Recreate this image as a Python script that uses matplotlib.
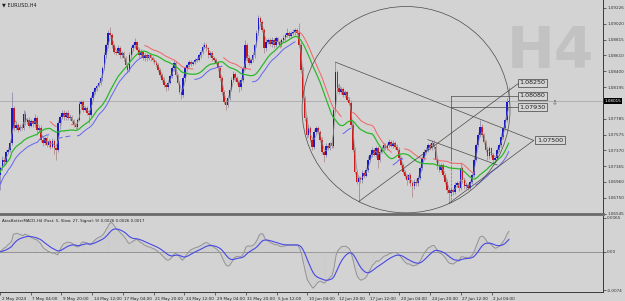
import numpy as np
import pandas as pd
import matplotlib
matplotlib.use("Agg")
import matplotlib.pyplot as plt
import matplotlib.transforms as mtransforms
from matplotlib.patches import Ellipse

# EURUSD H4 closes, bar 0 = 2 May 2024 12:00 (open of each bar = previous close)
first_open = 1.0712
closes = [
    1.0705, 1.0714, 1.0725, 1.0722, 1.0735, 1.0738, 1.0747, 1.0792, 1.0766, 1.0770,
    1.0764, 1.0768, 1.0766, 1.0785, 1.0774, 1.0777, 1.0769, 1.0775, 1.0771, 1.0779,
    1.0764, 1.0766, 1.0751, 1.0747, 1.0753, 1.0744, 1.0749, 1.0742, 1.0749, 1.0740,
    1.0738, 1.0772, 1.0780, 1.0786, 1.0780, 1.0786, 1.0779, 1.0781, 1.0775, 1.0770,
    1.0768, 1.0777, 1.0797, 1.0800, 1.0790, 1.0792, 1.0786, 1.0783, 1.0805, 1.0813,
    1.0818, 1.0821, 1.0825, 1.0831, 1.0844, 1.0861, 1.0874, 1.0890, 1.0887, 1.0874,
    1.0865, 1.0864, 1.0870, 1.0861, 1.0864, 1.0857, 1.0848, 1.0842, 1.0861, 1.0870,
    1.0874, 1.0878, 1.0868, 1.0861, 1.0865, 1.0857, 1.0861, 1.0857, 1.0861, 1.0857,
    1.0855, 1.0852, 1.0848, 1.0842, 1.0835, 1.0829, 1.0822, 1.0819, 1.0825, 1.0834,
    1.0844, 1.0851, 1.0835, 1.0825, 1.0813, 1.0809, 1.0831, 1.0844, 1.0848, 1.0852,
    1.0850, 1.0852, 1.0855, 1.0855, 1.0861, 1.0865, 1.0872, 1.0874, 1.0870, 1.0861,
    1.0864, 1.0857, 1.0855, 1.0851, 1.0844, 1.0831, 1.0813, 1.0800, 1.0796, 1.0805,
    1.0816, 1.0829, 1.0837, 1.0831, 1.0826, 1.0819, 1.0829, 1.0844, 1.0874, 1.0857,
    1.0851, 1.0855, 1.0861, 1.0874, 1.0890, 1.0909, 1.0904, 1.0894, 1.0870, 1.0878,
    1.0881, 1.0875, 1.0881, 1.0874, 1.0883, 1.0878, 1.0874, 1.0881, 1.0883, 1.0887,
    1.0890, 1.0886, 1.0890, 1.0891, 1.0894, 1.0890, 1.0874, 1.0842, 1.0805, 1.0779,
    1.0757, 1.0766, 1.0751, 1.0742, 1.0761, 1.0766, 1.0761, 1.0751, 1.0735, 1.0731,
    1.0743, 1.0740, 1.0746, 1.0743, 1.0790, 1.0839, 1.0818, 1.0813, 1.0817, 1.0809,
    1.0813, 1.0803, 1.0799, 1.0770, 1.0738, 1.0709, 1.0696, 1.0701, 1.0698, 1.0707,
    1.0704, 1.0712, 1.0725, 1.0731, 1.0738, 1.0731, 1.0740, 1.0725, 1.0735, 1.0740,
    1.0744, 1.0740, 1.0744, 1.0748, 1.0743, 1.0747, 1.0742, 1.0738, 1.0727, 1.0718,
    1.0709, 1.0704, 1.0698, 1.0705, 1.0694, 1.0690, 1.0696, 1.0694, 1.0701, 1.0714,
    1.0727, 1.0735, 1.0738, 1.0744, 1.0740, 1.0747, 1.0742, 1.0725, 1.0716, 1.0712,
    1.0718, 1.0705, 1.0696, 1.0685, 1.0681, 1.0685, 1.0683, 1.0692, 1.0694, 1.0688,
    1.0714, 1.0698, 1.0690, 1.0692, 1.0688, 1.0696, 1.0705, 1.0725, 1.0744, 1.0757,
    1.0768, 1.0757, 1.0748, 1.0738, 1.0729, 1.0740, 1.0731, 1.0725, 1.0727, 1.0738,
    1.0744, 1.0755, 1.0766, 1.0777, 1.0800, 1.0801,
]
# wick lengths beyond the body, in pips
upper_wick = [
    3, 2, 4, 3, 2, 3, 4, 21, 3, 4, 2, 3, 3, 5, 3, 2, 4, 3, 2, 6,
    3, 2, 4, 3, 2, 3, 3, 2, 4, 3, 2, 5, 3, 4, 3, 2, 3, 4, 2, 3,
    3, 2, 4, 3, 3, 2, 3, 3, 4, 3, 2, 3, 3, 4, 3, 4, 3, 4, 8, 3,
    2, 3, 4, 3, 2, 3, 3, 2, 4, 3, 3, 6, 2, 3, 4, 2, 3, 3, 2, 3,
    3, 2, 3, 3, 2, 3, 3, 2, 4, 3, 3, 4, 3, 2, 3, 3, 4, 3, 2, 3,
    3, 2, 3, 4, 3, 3, 4, 4, 3, 2, 3, 3, 2, 3, 3, 2, 3, 3, 2, 4,
    3, 4, 3, 2, 3, 3, 4, 3, 7, 3, 2, 3, 4, 3, 4, 5, 3, 3, 2, 4,
    3, 2, 4, 3, 3, 2, 3, 3, 4, 3, 7, 3, 3, 4, 3, 3, 13, 4, 3, 3,
    3, 4, 3, 2, 4, 3, 3, 2, 3, 3, 4, 3, 2, 3, 4, 13, 3, 4, 3, 3,
    3, 2, 3, 3, 4, 3, 2, 3, 3, 4, 3, 3, 4, 3, 3, 2, 3, 3, 4, 3,
    3, 3, 2, 4, 3, 3, 2, 3, 3, 2, 3, 3, 2, 3, 3, 2, 3, 3, 4, 3,
    3, 4, 3, 3, 2, 4, 3, 3, 2, 3, 3, 2, 3, 3, 2, 3, 3, 4, 3, 3,
    8, 3, 2, 3, 3, 2, 3, 4, 3, 4, 9, 3, 3, 2, 3, 3, 2, 3, 3, 4,
    3, 4, 3, 4, 5, 18,
]
lower_wick = [
    4, 20, 3, 4, 3, 2, 3, 3, 4, 3, 3, 2, 3, 3, 4, 3, 3, 2, 3, 3,
    4, 3, 3, 4, 3, 2, 3, 3, 2, 8, 13, 3, 3, 2, 3, 3, 2, 3, 3, 2,
    3, 3, 2, 3, 3, 2, 3, 10, 3, 2, 3, 3, 2, 3, 3, 2, 3, 3, 2, 3,
    3, 3, 2, 3, 3, 3, 3, 4, 3, 2, 3, 3, 2, 3, 3, 2, 3, 3, 2, 3,
    3, 2, 3, 3, 2, 3, 3, 5, 3, 2, 3, 3, 3, 3, 3, 5, 3, 3, 2, 3,
    3, 2, 3, 3, 2, 3, 3, 2, 3, 3, 2, 3, 3, 2, 3, 3, 4, 3, 6, 3,
    3, 2, 3, 3, 2, 6, 3, 3, 2, 3, 3, 2, 3, 3, 2, 3, 3, 3, 6, 3,
    3, 2, 3, 3, 2, 3, 3, 2, 3, 3, 2, 3, 3, 2, 3, 3, 3, 4, 3, 4,
    4, 3, 3, 5, 3, 2, 3, 3, 3, 9, 3, 2, 3, 3, 3, 3, 3, 2, 3, 3,
    3, 2, 3, 3, 3, 3, 3, 26, 3, 3, 3, 2, 3, 3, 3, 2, 3, 11, 3, 2,
    3, 2, 3, 3, 2, 3, 3, 2, 3, 3, 3, 3, 6, 3, 3, 14, 3, 3, 3, 3,
    3, 2, 3, 3, 2, 3, 3, 3, 3, 3, 3, 3, 3, 3, 13, 3, 4, 3, 3, 4,
    3, 3, 3, 3, 3, 3, 3, 3, 2, 3, 3, 3, 3, 3, 4, 3, 3, 3, 3, 3,
    3, 3, 3, 3, 3, 3,
]

time_labels = ["2 May 2024", "7 May 04:00", "9 May 20:00", "14 May 12:00", "17 May 04:00",
               "21 May 20:00", "24 May 12:00", "29 May 04:00", "31 May 20:00", "5 Jun 12:00",
               "10 Jun 04:00", "12 Jun 20:00", "17 Jun 12:00", "20 Jun 04:00", "24 Jun 20:00",
               "27 Jun 12:00", "2 Jul 04:00"]
bars_per_label = 16
price_ticks = [1.09226, 1.09020, 1.08815, 1.08610, 1.08400, 1.08195, 1.07785,
               1.07575, 1.07370, 1.07165, 1.06960, 1.06750, 1.06545]
last_price = 1.08015
macd_ticks = [0.0065, 0.0, -0.0074]
macd_tick_labels = ["0.0065", "0.00", "-0.0074"]
macd_title = "AtasBetterMACD-H4 (Fast: 5, Slow: 27, Signal: 9) 0.0026 0.0026 0.0017"

# hand-drawn objects: (bar, price) anchors
trend_lines = [((175, 1.0852), (278, 1.0750)),
               ((187, 1.0670), (270.5, 1.0825)),
               ((234, 1.0668), (278, 1.0750)),
               ((223, 1.0751), (259, 1.0718)),
               ((235, 1.0808), (270.5, 1.0808)),
               ((235, 1.0793), (270.5, 1.0793)),
               ((235, 1.0808), (235, 1.0725))]
dotted_lines = [((235, 1.0725), (235, 1.0668))]
level_labels = [(270.5, 1.0825, "1.08250"), (270.5, 1.0808, "1.08080"),
                (270.5, 1.0793, "1.07930"), (279.7, 1.0750, "1.07500")]
circle_center = (211.7, 1.0790)
circle_size = (108, 0.0269)

bg = "#d3d3d3"
W, H = 625, 301

c = np.array(closes)
o = np.r_[first_open, c[:-1]]
hi = np.maximum(o, c) + np.array(upper_wick) * 1e-4
lo = np.minimum(o, c) - np.array(lower_wick) * 1e-4
idx = np.arange(len(c))

s = pd.Series(c)
ma_len = 21
green = s.rolling(ma_len, min_periods=1).mean()
blue = pd.Series(lo).rolling(ma_len, min_periods=1).mean()
red = pd.Series(hi).rolling(ma_len, min_periods=1).mean()
rising = green.diff().fillna(1) > 0
fast = s.rolling(3, min_periods=1).mean()

macd = s.ewm(span=5, adjust=False).mean() - s.ewm(span=27, adjust=False).mean()
signal = macd.ewm(span=9, adjust=False).mean()

fig = plt.figure(figsize=(W / 100, H / 100), dpi=100)
fig.patch.set_facecolor(bg)
ax = fig.add_axes([0, 1 - 214 / H, 603 / W, 214 / H])
ax2 = fig.add_axes([0, 1 - 292 / H, 603 / W, 76 / H])

for a in (ax, ax2):
    a.set_facecolor(bg)
    a.set_xlim(0.78, 314.0)
    for sp in ("top", "left"):
        a.spines[sp].set_visible(False)
    a.spines["right"].set_color("#3a3a3a")
    a.spines["right"].set_linewidth(0.7)
    a.yaxis.tick_right()
    a.tick_params(axis="y", direction="out", length=2, width=0.5, pad=1,
                  labelsize=3.0, colors="#303030")

# ---- main price window
ax.set_ylim(1.06540, 1.09330)
ax.spines["bottom"].set_color("#6a6a6a")
ax.spines["bottom"].set_linewidth(2.0)
ax.set_xticks([])
ax.set_yticks(price_ticks)
ax.set_yticklabels([f"{p:.5f}" for p in price_ticks])

ax.axhline(last_price, color="#a2a2a2", lw=0.5, zorder=1)

up = c >= o
ax.vlines(idx[up], lo[up], hi[up], color="#8080a8", lw=0.5, zorder=2)
ax.vlines(idx[~up], lo[~up], hi[~up], color="#a88080", lw=0.5, zorder=2)
body_h = np.maximum(np.abs(c - o), 0.00005)
ax.bar(idx[up], body_h[up], bottom=np.minimum(o, c)[up], width=0.85,
       color="#1a1acc", lw=0, zorder=3)
ax.bar(idx[~up], body_h[~up], bottom=np.minimum(o, c)[~up], width=0.85,
       color="#cc1a1a", lw=0, zorder=3)

ax.plot(idx, fast, color="#8e8e8e", lw=0.5, zorder=4)
ax.plot(idx, green, color="#2cb82c", lw=0.9, zorder=4)
ax.plot(idx, blue.where(rising), color="#6464f0", lw=0.7, zorder=4)
ax.plot(idx, red.where(~rising), color="#f06464", lw=0.7, zorder=4)

for (x0, y0), (x1, y1) in trend_lines:
    ax.plot([x0, x1], [y0, y1], color="#4a4a4a", lw=0.5, zorder=5)
for (x0, y0), (x1, y1) in dotted_lines:
    ax.plot([x0, x1], [y0, y1], color="#4a4a4a", lw=0.5, ls=(0, (1, 1)), zorder=5)
ax.add_patch(Ellipse(circle_center, circle_size[0], circle_size[1], fill=False,
                     ec="#4a4a4a", lw=0.5, zorder=5))
for x, y, t in level_labels:
    ax.text(x, y, t, ha="left", va="center", fontsize=4.6, color="#202020", zorder=6,
            bbox=dict(boxstyle="square,pad=0.25", fc="#d6d6d6", ec="#404040", lw=0.5))
ax.text(289, 1.0799, "\u21e9", ha="center", va="center", fontsize=5, color="#606060")

ax.text(1.003, last_price, f"{last_price:.5f}", transform=ax.get_yaxis_transform(),
        ha="left", va="center", fontsize=3.0, color="white", zorder=7, clip_on=False,
        bbox=dict(boxstyle="square,pad=0.2", fc="black", ec="black", lw=0))

fig.text(2 / W, 1 - 4.5 / H, "\u25bc EURUSD,H4", ha="left", va="center",
         fontsize=3.6, color="#202020")
fig.text(550 / W, 1 - 68 / H, "H4", ha="center", va="baseline", fontsize=41,
         fontweight="bold", color="#c2c2c2", zorder=0)

# ---- MACD window
ax2.set_ylim(-0.0077, 0.0068)
ax2.spines["bottom"].set_color("#3a3a3a")
ax2.spines["bottom"].set_linewidth(0.7)
ax2.set_yticks(macd_ticks)
ax2.set_yticklabels(macd_tick_labels)
ax2.axhline(0, color="#8a8a8a", lw=0.6, zorder=1)
ax2.vlines(idx, 0, macd, color="#bcbcbc", lw=0.3, zorder=2)
ax2.plot(idx, macd, color="#939393", lw=0.7, zorder=3)
ax2.plot(idx, signal, color="#4848e6", lw=0.8, zorder=4)
ax2.text(2 / 603, 0.93, macd_title, transform=ax2.transAxes, ha="left", va="center",
         fontsize=2.9, color="#202020")

tick_pos = np.arange(len(time_labels)) * bars_per_label
ax2.set_xticks(tick_pos)
ax2.set_xticklabels([])
ax2.tick_params(axis="x", direction="out", length=2.5, width=0.5, colors="#3a3a3a")
offset = mtransforms.ScaledTranslation(1.5 / 100, 0, fig.dpi_scale_trans)
for pos, lab in zip(tick_pos, time_labels):
    ax2.text(pos, -0.06, lab, transform=ax2.get_xaxis_transform() + offset,
             ha="left", va="top", fontsize=3.0, color="#202020", clip_on=False)

fig.savefig("out.png", dpi=100, facecolor=bg)
